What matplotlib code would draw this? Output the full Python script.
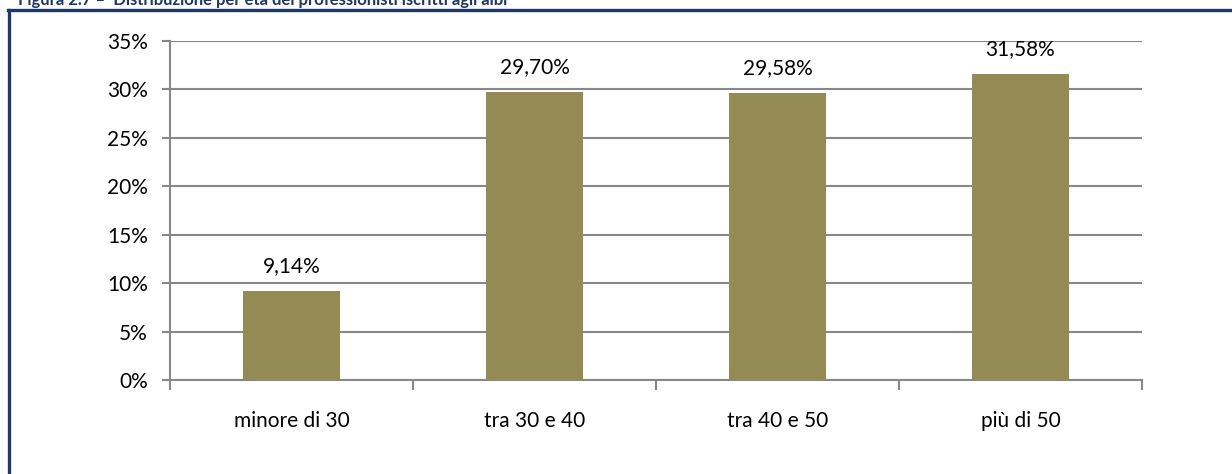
import matplotlib.pyplot as plt
from matplotlib.lines import Line2D
import numpy as np

categorie = ['minore di 30', 'tra 30 e 40', 'tra 40 e 50', 'più di 50']
quote = [9.14, 29.70, 29.58, 31.58]   # percentuali
etichette = ['9,14%', '29,70%', '29,58%', '31,58%']
tick_y = [0, 5, 10, 15, 20, 25, 30, 35]

plt.rcParams['font.family'] = ['Lato', 'DejaVu Sans']
fs = 15

fig = plt.figure(figsize=(12.32, 4.74), dpi=100)
ax = fig.add_axes([170/1232, 1 - 380/474, 972/1232, 339/474])

x = np.arange(len(categorie))
ax.bar(x, quote, width=0.4, color='#948A54', zorder=3)
for xi, v, lab in zip(x, quote, etichette):
    ax.annotate(lab, (xi, v), xytext=(0, 18), textcoords='offset points',
                ha='center', va='center', fontsize=fs, color='black')

ax.set_xlim(-0.5, len(categorie) - 0.5)
ax.set_ylim(0, 35)
ax.set_yticks(tick_y)
ax.set_yticklabels(['%d%%' % t for t in tick_y], fontsize=fs)
ax.yaxis.grid(True, color='#888888', linewidth=1.5, zorder=0)

# tick maggiori ai confini delle categorie, etichette al centro
ax.set_xticks(np.arange(len(categorie) + 1) - 0.5)
ax.set_xticklabels([])
ax.set_xticks(x, minor=True)
ax.set_xticklabels(categorie, minor=True, fontsize=fs)
ax.tick_params(axis='x', which='major', length=7, width=1.5, color='#888888', direction='out')
ax.tick_params(axis='x', which='minor', length=0, pad=22)
ax.tick_params(axis='y', length=6, width=1.5, color='#888888', pad=10)

for s in ['top', 'right']:
    ax.spines[s].set_visible(False)
for s in ['left', 'bottom']:
    ax.spines[s].set_color('#888888')
    ax.spines[s].set_linewidth(1.5)

# cornice e titolo (tagliato in alto, come nell'originale)
navy = '#1F3864'
fig.add_artist(Line2D([8/1232, 1], [1 - 10/474, 1 - 10/474], color=navy, linewidth=2.4))
fig.add_artist(Line2D([9/1232, 9/1232], [0, 1 - 10/474], color=navy, linewidth=2.4))
fig.text(18/1232, 1.0, 'Figura 2.7 \u2013  Distribuzione per età dei professionisti iscritti agli albi',
         ha='left', va='center', fontsize=12, fontweight='bold', color=navy)

fig.savefig('out.png', dpi=100)
